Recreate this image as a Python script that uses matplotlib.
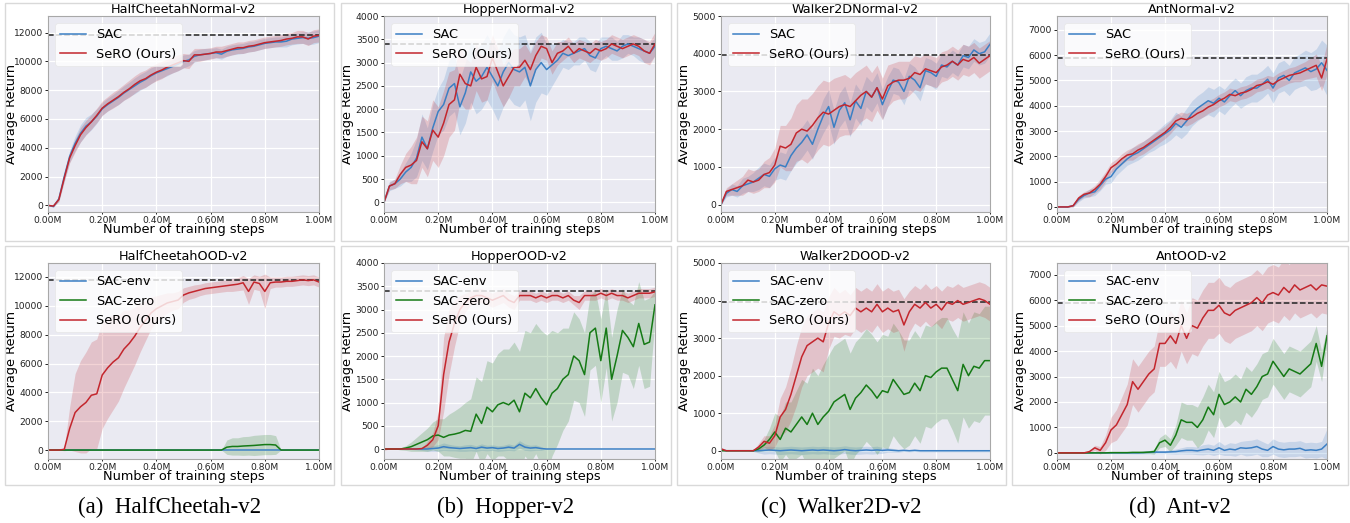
#recreation of the SeRO vs SAC learning curves (normal and OOD envs), 4 columns x 2 rows

import matplotlib
matplotlib.use("Agg")
import matplotlib.pyplot as plt
from matplotlib.patches import Rectangle
from matplotlib.ticker import FuncFormatter
import numpy as np

#training steps, in millions, one value every 0.02M
steps = np.arange(51) * 0.02

#---------------- HalfCheetah ----------------
hc_sac = [0, -80, 450, 2000, 3400, 4300, 5000, 5500, 5800, 6200,
          6700, 7000, 7250, 7500, 7800, 8050, 8300, 8550, 8750, 9000,
          9200, 9350, 9500, 9650, 9800, 10000, 10100, 10350, 10450, 10500,
          10550, 10600, 10500, 10700, 10800, 10850, 10900, 11000, 11050, 11150,
          11250, 11300, 11350, 11350, 11400, 11550, 11600, 11650, 11600, 11650,
          11750]
hc_sac_sd = [0, 60, 150, 300, 400, 500, 600, 600, 550, 500,
             450, 450, 450, 500, 500, 500, 550, 550, 550, 550,
             500, 500, 500, 450, 450, 450, 400, 400, 400, 400,
             350, 350, 350, 350, 350, 350, 350, 350, 350, 350,
             350, 350, 350, 350, 400, 400, 400, 400, 450, 450,
             450]
hc_sero = [0, -50, 400, 1900, 3300, 4150, 4900, 5400, 5800, 6250,
           6750, 7050, 7300, 7550, 7850, 8100, 8400, 8650, 8800, 9050,
           9250, 9400, 9600, 9750, 9900, 10050, 10000, 10450, 10450, 10500,
           10550, 10650, 10650, 10750, 10850, 10950, 10950, 11050, 11100, 11200,
           11300, 11350, 11400, 11450, 11550, 11600, 11700, 11700, 11550, 11750,
           11800]
hc_sero_sd = [0, 50, 150, 250, 350, 450, 500, 500, 500, 500,
              500, 500, 550, 550, 550, 600, 600, 600, 600, 600,
              600, 600, 550, 550, 550, 500, 500, 450, 450, 400,
              400, 400, 400, 400, 400, 400, 400, 400, 400, 400,
              400, 400, 400, 400, 400, 400, 450, 450, 450, 450,
              450]

hco_env = [0, 0, 0, 0, 0, 0, 0, 0, 0, 0,
           0, 0, 0, 0, 0, 0, 0, 0, 0, 0,
           0, 0, 0, 0, 0, 0, 0, 0, 0, 0,
           0, 0, 0, 0, 0, 0, 0, 0, 0, 0,
           0, 0, 0, 0, 0, 0, 0, 0, 0, 0,
           0]
hco_env_sd = hco_env
hco_zero = [0, 0, 0, 0, 0, 0, 0, 0, 0, 0,
            0, 0, 0, 0, 0, 0, 0, 0, 0, 0,
            0, 0, 0, 0, 0, 0, 0, 0, 0, 0,
            0, 0, 0, 200, 250, 250, 280, 300, 320, 350,
            380, 380, 350, 0, 0, 0, 0, 0, 0, 0,
            0]
hco_zero_sd = [0, 0, 0, 0, 0, 0, 0, 0, 0, 0,
               0, 0, 0, 0, 0, 0, 0, 0, 0, 0,
               0, 0, 0, 0, 0, 0, 0, 0, 0, 0,
               0, 0, 0, 500, 600, 600, 650, 650, 700, 700,
               700, 700, 650, 0, 0, 0, 0, 0, 0, 0,
               0]
hco_sero = [0, 0, 0, 50, 1500, 2600, 3000, 3300, 3800, 3900,
            5200, 5700, 6100, 6400, 7000, 7400, 7900, 8500, 9000, 9500,
            9800, 10000, 10200, 10300, 10400, 10750, 10900, 11000, 11100, 11200,
            11250, 11300, 11350, 11400, 11450, 11500, 11600, 11000, 11650, 11550,
            11000, 11600, 11650, 11650, 11700, 11700, 11750, 11800, 11750, 11800,
            11650]
hco_sero_sd = [0, 0, 0, 100, 1500, 2700, 3200, 3500, 3700, 3800,
               3700, 3500, 3300, 3000, 2700, 2300, 2000, 1700, 1400, 1100,
               900, 800, 700, 600, 600, 500, 450, 450, 400, 400,
               400, 400, 400, 400, 450, 450, 500, 900, 500, 500,
               1200, 400, 350, 350, 350, 350, 350, 350, 350, 350,
               350]

#---------------- Hopper ----------------
hn_sac = [0, 350, 400, 500, 650, 750, 950, 1400, 1150, 1600,
          1950, 2100, 2450, 2550, 2050, 2350, 2800, 2600, 2700, 2900,
          2700, 2500, 2800, 3000, 2850, 2800, 2900, 2500, 2850, 3000,
          2850, 2950, 3050, 3200, 3150, 3200, 3250, 3300, 3150, 3100,
          3300, 3350, 3300, 3250, 3350, 3400, 3350, 3300, 3250, 3200,
          3350]
hn_sac_sd = [0, 100, 100, 150, 200, 300, 400, 500, 450, 500,
             500, 550, 600, 600, 600, 650, 650, 700, 700, 700,
             700, 750, 750, 750, 750, 750, 700, 750, 700, 650,
             550, 450, 350, 300, 300, 250, 300, 250, 300, 300,
             250, 200, 250, 200, 250, 200, 200, 250, 250, 200,
             200]
hn_sero = [0, 350, 400, 600, 750, 800, 900, 1300, 1150, 1550,
           1400, 1700, 2100, 2200, 2750, 2550, 2500, 2900, 2650, 2700,
           3100, 2800, 2500, 2700, 2900, 2900, 3050, 2850, 3150, 3350,
           3300, 3000, 3200, 3250, 3350, 3200, 3300, 3250, 3200, 3300,
           3250, 3300, 3400, 3350, 3300, 3350, 3400, 3350, 3250, 3200,
           3400]
hn_sero_sd = [0, 80, 100, 200, 300, 400, 500, 550, 600, 650,
              650, 700, 700, 650, 600, 550, 500, 500, 500, 500,
              500, 500, 450, 450, 400, 400, 350, 350, 300, 250,
              250, 250, 250, 200, 200, 200, 200, 200, 200, 200,
              200, 200, 200, 200, 200, 200, 200, 200, 250, 250,
              250]

ho_env = [0, 0, 0, 0, 0, 0, 0, 0, 0, 10,
          20, 50, 30, 20, 10, 20, 30, 10, 40, 20,
          30, 10, 20, 40, 20, 100, 40, 20, 30, 10,
          0, 0, 0, 0, 0, 0, 0, 0, 0, 0,
          0, 0, 0, 0, 0, 0, 0, 0, 0, 0,
          0]
ho_env_sd = [0, 0, 0, 0, 0, 10, 20, 30, 50, 60,
             70, 80, 70, 60, 60, 70, 70, 60, 70, 60,
             60, 60, 60, 70, 60, 80, 70, 60, 60, 40,
             0, 0, 0, 0, 0, 0, 0, 0, 0, 0,
             0, 0, 0, 0, 0, 0, 0, 0, 0, 0,
             0]
ho_zero = [0, 0, 0, 0, 20, 50, 100, 150, 200, 280,
           300, 250, 300, 320, 350, 400, 380, 750, 550, 900,
           800, 950, 1000, 950, 1050, 800, 1200, 1100, 1300, 1100,
           950, 1200, 1300, 1500, 1600, 2000, 1900, 1600, 2500, 2600,
           1900, 2600, 1500, 2000, 2550, 2400, 2200, 2700, 2250, 2300,
           3100]
ho_zero_sd = [0, 0, 0, 20, 50, 100, 150, 200, 250, 300,
              350, 400, 450, 500, 550, 600, 700, 800, 900, 1000,
              1050, 1100, 1150, 1200, 1250, 1300, 1350, 1400, 1400, 1450,
              1500, 1350, 1200, 1100, 1000, 950, 900, 900, 800, 800,
              900, 850, 900, 1000, 900, 800, 900, 900, 950, 950,
              300]
ho_sero = [0, 0, 0, 0, 0, 0, 0, 10, 80, 200,
           500, 1600, 2300, 2700, 3000, 3150, 3250, 3300, 3300, 3250,
           3200, 3250, 3300, 3200, 3150, 3300, 3300, 3300, 3250, 3300,
           3250, 3300, 3300, 3250, 3300, 3200, 3150, 3300, 3300, 3300,
           3350, 3300, 3350, 3300, 3300, 3250, 3300, 3350, 3350, 3350,
           3380]
ho_sero_sd = [30, 0, 0, 0, 0, 0, 0, 20, 80, 150,
              300, 800, 700, 500, 300, 200, 150, 150, 150, 150,
              150, 150, 150, 150, 150, 100, 100, 100, 100, 100,
              100, 100, 100, 100, 100, 100, 150, 100, 100, 100,
              100, 100, 100, 100, 100, 100, 100, 100, 100, 100,
              100]

#---------------- Walker2D ----------------
wn_sac = [0, 300, 400, 350, 500, 550, 600, 700, 800, 750,
          950, 1050, 1000, 1300, 1500, 1650, 1850, 1600, 2000, 2350,
          2600, 2050, 2500, 2700, 2250, 2750, 2550, 3000, 2850, 3100,
          2650, 3000, 3300, 3250, 3000, 3400, 3300, 3100, 3550, 3500,
          3400, 3700, 3650, 3800, 3700, 3950, 3900, 4100, 4000, 4050,
          4250]
wn_sac_sd = [0, 100, 150, 150, 200, 200, 250, 300, 300, 300,
             300, 350, 350, 400, 400, 400, 400, 400, 400, 450,
             450, 450, 450, 450, 450, 450, 450, 400, 400, 400,
             400, 400, 350, 350, 350, 350, 350, 350, 350, 350,
             350, 300, 300, 300, 300, 300, 300, 300, 300, 300,
             300]
wn_sero = [0, 350, 400, 450, 500, 650, 600, 650, 800, 850,
           1050, 1550, 1500, 1600, 1900, 2000, 1950, 2100, 2300, 2450,
           2400, 2500, 2600, 2650, 2600, 2750, 2900, 3000, 2850, 3100,
           2800, 3150, 3250, 3300, 3300, 3350, 3500, 3450, 3600, 3550,
           3500, 3650, 3700, 3800, 3700, 3850, 3800, 3900, 3750, 3850,
           3950]
wn_sero_sd = [0, 100, 150, 200, 250, 300, 300, 300, 350, 400,
              450, 550, 600, 700, 750, 800, 850, 850, 850, 850,
              850, 850, 800, 800, 750, 750, 700, 700, 650, 600,
              550, 550, 500, 500, 500, 450, 450, 450, 400, 400,
              400, 400, 400, 400, 400, 400, 400, 400, 400, 400,
              400]

wo_env = [20, 0, 0, 0, 0, 0, 0, 0, 10, 20,
          10, 0, 10, 20, 10, 0, 10, 20, 10, 20,
          10, 0, 10, 30, 10, 0, 10, 20, 10, 20,
          10, 20, 10, 0, 10, 0, 10, 0, 0, 0,
          0, 0, 0, 0, 0, 0, 0, 0, 0, 0,
          0]
wo_env_sd = [30, 0, 0, 0, 0, 0, 20, 60, 100, 100,
             100, 100, 100, 100, 100, 100, 100, 100, 100, 100,
             100, 100, 100, 100, 100, 100, 100, 100, 100, 100,
             80, 60, 50, 40, 30, 30, 30, 30, 30, 30,
             30, 30, 30, 30, 30, 30, 30, 30, 30, 30,
             30]
wo_zero = [0, 0, 0, 0, 0, 0, 0, 50, 150, 300,
           500, 300, 600, 500, 700, 900, 700, 1000, 700, 900,
           1050, 1300, 1400, 1500, 1100, 1400, 1550, 1750, 1600, 1400,
           1600, 1550, 1900, 1700, 1500, 1550, 1800, 1600, 2000, 1950,
           2100, 2200, 2200, 1900, 1600, 2300, 2000, 2250, 2200, 2400,
           2400]
wo_zero_sd = [0, 0, 0, 0, 0, 0, 20, 80, 150, 300,
              500, 600, 700, 800, 900, 1000, 1100, 1200, 1300, 1400,
              1500, 1500, 1500, 1500, 1500, 1500, 1500, 1500, 1500, 1500,
              1500, 1500, 1500, 1500, 1450, 1400, 1400, 1400, 1350, 1350,
              1350, 1350, 1350, 1350, 1400, 1400, 1400, 1450, 1450, 1450,
              1450]
wo_sero = [50, 0, 0, 0, 0, 0, 0, 100, 250, 200,
           400, 900, 1100, 1500, 2000, 2500, 2800, 2900, 3000, 2900,
           3400, 3700, 3600, 3700, 3600, 3800, 3700, 3800, 3700, 3900,
           3700, 3800, 3700, 3750, 3350, 3700, 3900, 3800, 3950, 3800,
           3900, 3750, 3950, 3900, 4000, 3900, 3950, 4000, 4050, 4000,
           3900]
wo_sero_sd = [50, 0, 0, 0, 0, 0, 0, 100, 150, 200,
              300, 500, 600, 700, 800, 800, 800, 800, 800, 800,
              700, 650, 600, 600, 550, 550, 550, 550, 550, 550,
              550, 550, 550, 550, 700, 550, 500, 500, 500, 500,
              500, 500, 450, 450, 450, 450, 450, 450, 450, 450,
              450]

#---------------- Ant ----------------
an_sac = [0, 0, 0, 50, 300, 450, 550, 600, 850, 1100,
          1200, 1500, 1700, 1900, 2050, 2150, 2300, 2450, 2600, 2750,
          2900, 3050, 3300, 3150, 3400, 3700, 3900, 4050, 4200, 4100,
          4300, 4150, 4400, 4600, 4400, 4600, 4700, 4700, 4850, 5050,
          4700, 5100, 5200, 5000, 5300, 5400, 5500, 5350, 5450, 5700,
          5400]
an_sac_sd = [0, 0, 20, 50, 100, 100, 150, 150, 200, 200,
             250, 250, 250, 250, 300, 300, 300, 300, 350, 350,
             400, 400, 450, 450, 500, 500, 500, 500, 550, 550,
             500, 500, 500, 500, 500, 550, 550, 550, 550, 550,
             600, 600, 600, 600, 650, 650, 700, 750, 800, 900,
             1000]
an_sero = [0, 0, 0, 50, 350, 500, 550, 700, 900, 1200,
           1550, 1700, 1900, 2050, 2100, 2250, 2350, 2500, 2650, 2800,
           2950, 3150, 3400, 3500, 3450, 3550, 3700, 3800, 3950, 4050,
           4200, 4300, 4450, 4400, 4500, 4550, 4650, 4800, 4850, 4950,
           4850, 5000, 5100, 5200, 5250, 5300, 5400, 5500, 5600, 5100,
           5850]
an_sero_sd = [0, 0, 20, 50, 100, 100, 150, 150, 200, 200,
              200, 200, 200, 200, 250, 250, 250, 250, 250, 250,
              250, 250, 250, 250, 250, 250, 250, 250, 250, 250,
              250, 250, 250, 250, 250, 250, 250, 250, 250, 250,
              300, 300, 300, 300, 300, 350, 350, 400, 450, 500,
              600]

ao_env = [0, 0, 0, 0, 0, 0, 0, 0, 0, 0,
          0, 0, 0, 0, 0, 0, 10, 20, 30, 30,
          30, 40, 50, 80, 100, 100, 80, 120, 150, 100,
          200, 100, 150, 120, 200, 180, 200, 250, 150, 100,
          250, 150, 120, 150, 150, 180, 100, 120, 100, 150,
          350]
ao_env_sd = [0, 0, 0, 0, 0, 0, 0, 0, 20, 20,
             30, 30, 30, 30, 40, 40, 50, 60, 60, 60,
             60, 80, 100, 120, 150, 150, 150, 200, 200, 200,
             250, 200, 250, 250, 250, 300, 300, 300, 300, 250,
             300, 300, 300, 300, 300, 300, 300, 300, 300, 300,
             600]
ao_zero = [0, 0, 0, 0, 0, 0, 0, 0, 0, 0,
           10, 10, 10, 10, 20, 20, 20, 30, 50, 400,
           500, 300, 700, 1300, 1200, 1200, 1000, 1300, 1800, 1500,
           2300, 1900, 2000, 2200, 2000, 2500, 2300, 2600, 3000, 3100,
           3600, 3300, 3000, 3300, 3200, 3100, 3300, 3500, 4300, 3400,
           4600]
ao_zero_sd = [0, 0, 0, 0, 0, 0, 0, 0, 0, 0,
              20, 20, 20, 20, 30, 30, 40, 50, 100, 200,
              250, 250, 400, 700, 700, 700, 800, 900, 900, 900,
              900, 900, 900, 900, 900, 900, 900, 900, 900, 900,
              900, 900, 900, 900, 900, 900, 900, 900, 700, 600,
              300]
ao_sero = [0, 0, 0, 0, 0, 0, 50, 200, 100, 400,
           900, 1100, 1500, 1900, 2800, 2500, 2800, 3100, 3300, 4300,
           4300, 4600, 4300, 5000, 4500, 5000, 4900, 5300, 5600, 5600,
           5800, 5500, 5400, 5600, 5700, 5800, 5900, 6100, 5900, 6200,
           6300, 6200, 6500, 6300, 6600, 6400, 6500, 6600, 6400, 6600,
           6550]
ao_sero_sd = [0, 0, 0, 0, 0, 20, 50, 100, 150, 300,
              500, 600, 700, 800, 900, 900, 900, 900, 900, 900,
              900, 1000, 1000, 1000, 1000, 1100, 1100, 1100, 1100, 1100,
              1100, 1100, 1100, 1100, 1100, 1100, 1100, 1100, 1100, 1100,
              1100, 1100, 1100, 1100, 1100, 1100, 1100, 1100, 1100, 1100,
              1100]

#dashed reference levels, y ranges and y ticks per env
ref_levels = [11800, 3400, 3970, 5870]
ylims_top = [(-460, 13150), (-207, 4000), (-195, 5000), (-200, 7550)]
ylims_bot = [(-620, 12970), (-215, 4000), (-220, 5000), (-240, 7460)]
yticks = [np.arange(0, 12001, 2000), np.arange(0, 4001, 500),
          np.arange(0, 5001, 1000), np.arange(0, 7001, 1000)]

titles_top = ["HalfCheetahNormal-v2", "HopperNormal-v2", "Walker2DNormal-v2", "AntNormal-v2"]
titles_bot = ["HalfCheetahOOD-v2", "HopperOOD-v2", "Walker2DOOD-v2", "AntOOD-v2"]
captions = ["(a)  HalfCheetah-v2", "(b)  Hopper-v2", "(c)  Walker2D-v2", "(d)  Ant-v2"]

normal_runs = [[(hc_sac, hc_sac_sd), (hc_sero, hc_sero_sd)],
               [(hn_sac, hn_sac_sd), (hn_sero, hn_sero_sd)],
               [(wn_sac, wn_sac_sd), (wn_sero, wn_sero_sd)],
               [(an_sac, an_sac_sd), (an_sero, an_sero_sd)]]
ood_runs = [[(hco_env, hco_env_sd), (hco_zero, hco_zero_sd), (hco_sero, hco_sero_sd)],
            [(ho_env, ho_env_sd), (ho_zero, ho_zero_sd), (ho_sero, ho_sero_sd)],
            [(wo_env, wo_env_sd), (wo_zero, wo_zero_sd), (wo_sero, wo_sero_sd)],
            [(ao_env, ao_env_sd), (ao_zero, ao_zero_sd), (ao_sero, ao_sero_sd)]]

blue = "#3b7fc4"
red = "#c3262d"
green = "#157a15"

#pixel layout of the 1350x523 figure
W, H = 1350, 523
col_axes = [(48, 319), (384, 655), (721, 990), (1057, 1327)]
row_axes = [(16, 212), (263, 459)]
col_box = [(5, 334), (341, 671), (677, 1006), (1012, 1348)]
row_box = [(3, 241), (246, 485)]

fig = plt.figure(figsize=(13.5, 5.23), dpi=100)
fig.patch.set_facecolor("white")


def draw(ax, runs, labels, colors, title, ylim, ticks, level):
    ax.set_facecolor("#eaeaf2")
    ax.grid(True, color="white", lw=0.9)
    ax.set_axisbelow(True)
    for s in ax.spines.values():
        s.set_color("#a8a8a8")
        s.set_linewidth(0.8)
    ax.axhline(level, color="#222222", ls="--", lw=1.1, zorder=1.5)
    for (m, sd), lab, c in zip(runs, labels, colors):
        m = np.array(m, dtype=float)
        sd = np.array(sd, dtype=float)
        ax.fill_between(steps, m - sd, m + sd, color=c, alpha=0.2, lw=0)
        ax.plot(steps, m, color=c, lw=1.1, label=lab)
    ax.set_xlim(0, 1.0)
    ax.set_ylim(*ylim)
    ax.set_yticks(ticks)
    ax.set_xticks([0, 0.2, 0.4, 0.6, 0.8, 1.0])
    ax.xaxis.set_major_formatter(FuncFormatter(lambda v, p: "%.2fM" % v))
    ax.tick_params(axis="both", labelsize=6.6, colors="#222222", width=0.7)
    ax.tick_params(axis="y", length=2.5, pad=1)
    ax.tick_params(axis="x", length=1.5, pad=1.2)
    ax.set_title(title, fontsize=9.2, pad=1.5)
    ax.set_xlabel("Number of training steps", fontsize=9.3)
    ax.set_ylabel("Average Return", fontsize=9.3)
    ax.yaxis.set_label_coords(-30.0 / 271, 0.5)
    ax.xaxis.set_label_coords(0.5, -11.0 / 196)
    leg = ax.legend(loc="upper left", fontsize=9.3, framealpha=0.8,
                    facecolor="white", edgecolor="#e6e6e6", borderaxespad=0.55)
    leg.get_frame().set_linewidth(0.6)


for j in range(4):
    #light frame around each sub-image
    for (b0, b1) in row_box:
        fig.patches.append(Rectangle((col_box[j][0] / W, 1 - b1 / H),
                                     (col_box[j][1] - col_box[j][0]) / W, (b1 - b0) / H,
                                     transform=fig.transFigure, fill=False,
                                     edgecolor="#d9d9d9", lw=1.0))
    x0, x1 = col_axes[j]
    for i, (y0, y1) in enumerate(row_axes):
        ax = fig.add_axes([x0 / W, 1 - y1 / H, (x1 - x0) / W, (y1 - y0) / H])
        if i == 0:
            draw(ax, normal_runs[j], ["SAC", "SeRO (Ours)"], [blue, red],
                 titles_top[j], ylims_top[j], yticks[j], ref_levels[j])
        else:
            draw(ax, ood_runs[j], ["SAC-env", "SAC-zero", "SeRO (Ours)"], [blue, green, red],
                 titles_bot[j], ylims_bot[j], yticks[j], ref_levels[j])
    xc = (col_box[j][0] + col_box[j][1]) / 2.0 / W
    fig.text(xc, 1 - 507.0 / H, captions[j], ha="center", va="center",
             fontsize=16.5, family=["Liberation Serif", "DejaVu Serif"])

fig.savefig("out.png", dpi=100)
